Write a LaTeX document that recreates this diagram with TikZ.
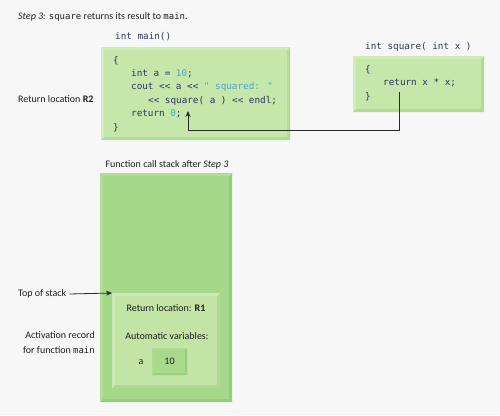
\documentclass[tikz,border=0pt]{standalone}
\usepackage{fontspec}
\setmainfont{Carlito}
\newfontfamily\codefont{DejaVu Sans Mono}
\usetikzlibrary{arrows.meta}
\definecolor{bg}{HTML}{F7F7F7}
\definecolor{codebg}{HTML}{C5E7A9}
\definecolor{codelt}{HTML}{D0ECB9}
\definecolor{codedk}{HTML}{B3DB95}
\definecolor{stackbg}{HTML}{A6D88A}
\definecolor{stacklt}{HTML}{B0DC96}
\definecolor{stackdk}{HTML}{96CD7A}
\definecolor{recbg}{HTML}{C2E5A5}
\definecolor{reclt}{HTML}{CDEAB5}
\definecolor{recdk}{HTML}{AFD993}
\definecolor{valbg}{HTML}{A8D98C}
\definecolor{codetxt}{HTML}{2B3660}
\definecolor{lit}{HTML}{4FA6CF}
\definecolor{txt}{HTML}{1E1E1E}
\definecolor{arrowc}{HTML}{2A2A2A}
\newcommand\mybevel[4]{%
  \fill[#3] (#1.south west) -- (#1.south east) -- (#1.north east)
    -- ([shift={(-#4,#4)}]#1.north east) -- ([shift={(-#4,-#4)}]#1.south east)
    -- ([shift={(#4,-#4)}]#1.south west) -- cycle;
  \fill[#2] (#1.south west) -- (#1.north west) -- (#1.north east)
    -- ([shift={(-#4,#4)}]#1.north east) -- ([shift={(#4,#4)}]#1.north west)
    -- ([shift={(#4,-#4)}]#1.south west) -- cycle;
}
\tikzset{
  box/.style={anchor=north west, inner sep=0pt, outer sep=0pt},
  code/.style={anchor=west, inner sep=0pt, font=\codefont\fontsize{9.3}{11}\selectfont, text=codetxt, text height=1.5ex, text depth=.3ex},
  lbl/.style={inner sep=0pt, font=\fontsize{10}{12}\selectfont, text=txt, text height=1.5ex, text depth=.3ex},
  arr/.style={draw=arrowc, line width=0.8pt, -{Stealth[length=6pt,width=5pt]}},
}
\begin{document}
\begin{tikzpicture}[x=1pt,y=-1pt]
\useasboundingbox (0,0) rectangle (500,415);
\fill[bg] (0,0) rectangle (500,415);

% title
\node[lbl, anchor=west] (title) at (18,17) {\textit{Step 3:} {\codefont\fontsize{9}{11}\selectfont square} returns its result to {\codefont\fontsize{9}{11}\selectfont main}.};

% main function
\node[code, text=codetxt] (mainhdr) at (115,37) {int main()};
\node[box, fill=codebg, minimum width=189pt, minimum height=93pt] (mainbox) at (101,47) {};
\mybevel{mainbox}{codelt}{codedk}{3}
\node[code] (m1) at (113,61) {\{};
\node[code] (m2) at (131,74) {int a = \textcolor{lit}{10};};
\node[code] (m3) at (131,87) {cout << a << \textcolor{lit}{" squared: "}};
\node[code] (m4) at (148,101) {<< square( a ) << endl;};
\node[code] (m5) at (131,114) {return \textcolor{lit}{0};};
\node[code] (m6) at (113,128) {\}};
\node[lbl, anchor=west] (r2) at (18,100) {Return location \textbf{R2}};

% square function
\node[code] (sqhdr) at (365,47) {int square( int x )};
\node[box, fill=codebg, minimum width=131pt, minimum height=56pt] (sqbox) at (353,56) {};
\mybevel{sqbox}{codelt}{codedk}{3}
\node[code] (s1) at (365,70) {\{};
\node[code] (s2) at (383,83) {return x * x;};
\node[code] (s3) at (365,97) {\}};

% return arrow
\coordinate (from) at (399,92);
\coordinate (bend) at (399,130);
\coordinate (to) at (188,111);
\draw[arr] (from) -- (bend) -| (to);

% stack
\node[lbl] (stackttl) at (167,165) {Function call stack after \textit{Step 3}};
\node[box, fill=stackbg, minimum width=132pt, minimum height=229pt] (stack) at (100,173) {};
\mybevel{stack}{stacklt}{stackdk}{3}
\node[box, fill=recbg, minimum width=108pt, minimum height=95pt] (rec) at (112,293) {};
\mybevel{rec}{reclt}{recdk}{3}
\node[lbl] (rl) at (166,309) {Return location: \textbf{R1}};
\node[lbl] (av) at (167,337) {Automatic variables:};
\node[lbl] (va) at (141,362) {a};
\node[box, fill=valbg, minimum width=35pt, minimum height=27pt] (val) at (152,348) {};
\mybevel{val}{codedk!60!valbg}{stackdk!80!valbg}{2}
\node[lbl] (vten) at (val.center) {10};

% left labels
\node[lbl, anchor=west] (tos) at (18,294) {Top of stack};
\draw[arr] ([xshift=3pt]tos.east) -- (rec.north west);
\node[lbl, anchor=east] (ar1) at (95,336) {Activation record};
\node[lbl, anchor=east] (ar2) at (95,351) {for function {\codefont\fontsize{9}{11}\selectfont main}};
\end{tikzpicture}
\end{document}
